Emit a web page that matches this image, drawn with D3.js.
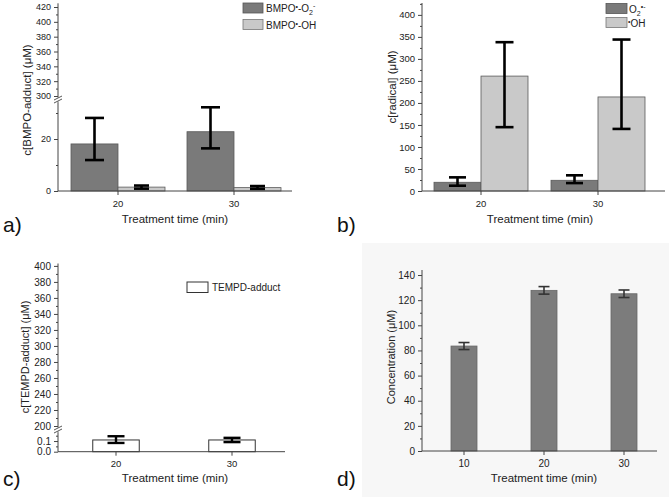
<!DOCTYPE html>
<html><head><meta charset="utf-8">
<script src="https://cdn.jsdelivr.net/npm/d3@7"></script>
<style>
body{margin:0;background:#fff}
svg{display:block;font-family:Arial,"Liberation Sans",sans-serif}
.axis path,.axis line{stroke:#444;stroke-width:1}
.axis text{fill:#222}
</style></head>
<body><svg id="c" width="669" height="497"></svg>
<script>
// ---------- DATA ----------
const timesAB = ["20", "30"];
// panel a: BMPO adducts
const aO2 = [18.1, 22.8], aO2Lo = [11.9, 16.4], aO2Hi = [28.1, 32.2];
const aOH = [1.5, 1.3], aOHLo = [0.9, 0.8], aOHHi = [2.1, 1.9];
const aUpperTicks = [300, 320, 340, 360, 380, 400, 420];
const aLowerTicks = [0, 20];
// panel b: radicals
const bO2 = [19.8, 24.3], bO2Lo = [12, 18], bO2Hi = [31, 35.6];
const bOH = [261, 213.6], bOHLo = [145, 141], bOHHi = [338, 344];
const bTicks = [0, 50, 100, 150, 200, 250, 300, 350, 400];
// panel c: TEMPD adduct
const cT = [0.11, 0.11], cTLo = [0.082, 0.09], cTHi = [0.145, 0.13];
const cUpperTicks = [200, 220, 240, 260, 280, 300, 320, 340, 360, 380, 400];
const cLowerTicks = [0.0, 0.1];
// panel d
const timesD = ["10", "20", "30"];
const dConc = [83.5, 127.8, 125.1], dErr = [2.8, 3.0, 3.0];
const dTicks = [0, 20, 40, 60, 80, 100, 120, 140];

const DARK = "#7a7a7a", LIGHT = "#c9c9c9";
const svg = d3.select("#c");

// panel d background
svg.append("rect").attr("x",362).attr("y",243).attr("width",307).attr("height",254).attr("fill","#f7f7f7");

function yAxis(g, scale, ticks, fmt, minor, fs){
  const ax = g.append("g").attr("class","axis");
  ax.call(d3.axisLeft(scale).tickValues(ticks).tickSize(4).tickPadding(3).tickFormat(fmt||d3.format("d")));
  ax.selectAll("text").attr("font-size", fs||10);
  if(minor){ g.append("g").attr("class","axis").call(d3.axisLeft(scale).tickValues(minor).tickSize(2).tickFormat("")).select(".domain").remove(); }
  ax.select(".domain").attr("d", `M0,${scale.range()[0]}V${scale.range()[1]}`);
}
function xAxis(g, scale, y, x0, x1, fs){
  const ax = g.append("g").attr("class","axis").attr("transform",`translate(0,${y})`)
    .call(d3.axisBottom(scale).tickSize(4).tickPadding(5));
  ax.selectAll("text").attr("font-size", fs||10);
  ax.select(".domain").attr("d", `M${x0},0H${x1}`);
}
function errBar(g, x, yHi, yLo, yMid, cap, w, col){
  const e = g.append("g").attr("stroke", col||"#000").attr("stroke-width", w).attr("fill","none");
  e.append("line").attr("x1",x).attr("x2",x).attr("y1",yHi).attr("y2",yLo);
  e.append("line").attr("x1",x-cap/2).attr("x2",x+cap/2).attr("y1",yHi).attr("y2",yHi);
  e.append("line").attr("x1",x-cap/2).attr("x2",x+cap/2).attr("y1",yLo).attr("y2",yLo);
}
function breakMark(g, x, y){
  const b = g.append("g");
  b.append("rect").attr("x",x-4).attr("y",y-2).attr("width",8).attr("height",4).attr("fill","#fff");
  [-1.5,1.5].forEach(o=>b.append("line").attr("x1",x-4).attr("x2",x+4).attr("y1",y+o+2).attr("y2",y+o-2).attr("stroke","#444").attr("stroke-width",0.9));
}
function label(g, txt, x, y, rot, size){
  const t = g.append("text").attr("text-anchor","middle").attr("font-size",size||11.5).attr("fill","#222")
    .attr("transform",`translate(${x},${y})${rot?" rotate(-90)":""}`);
  return t.text(txt);
}
function letter(t,x,y){ svg.append("text").attr("x",x).attr("y",y).attr("font-size",21).attr("fill","#111").text(t); }

// ---------- PANEL A ----------
{
  const g = svg.append("g");
  const x = d3.scaleBand().domain(timesAB).range([60, 292]);
  const sub = d3.scaleBand().domain(["O2","OH"]).range([0, 94]);
  const yU = d3.scaleLinear().domain([300, 425]).range([96, 3.3]);
  const yL = d3.scaleLinear().domain([0, 34]).range([191, 102.6]);
  const ax = g.append("g").attr("transform","translate(58,0)");
  yAxis(ax, yU, aUpperTicks, null, [310,330,350,370,390,410], 9);
  yAxis(ax, yL, aLowerTicks, null, [10,30], 9);
  ax.append("line").attr("x1",0).attr("x2",0).attr("y1",96).attr("y2",102.6).attr("stroke","#444");
  breakMark(g, 58, 99.5);
  const series = [{k:"O2",v:aO2,lo:aO2Lo,hi:aO2Hi,c:DARK,cap:19},{k:"OH",v:aOH,lo:aOHLo,hi:aOHHi,c:LIGHT,cap:15}];
  series.forEach(s=>{
    timesAB.forEach((t,i)=>{
      const bx = x(t)+ (x.bandwidth()-94)/2 + sub(s.k);
      g.append("rect").attr("x",bx).attr("y",yL(s.v[i])).attr("width",sub.bandwidth()).attr("height",yL(0)-yL(s.v[i]))
        .attr("fill",s.c).attr("stroke","#5a5a5a").attr("stroke-width",0.8);
    });
  });
  series.forEach(s=>timesAB.forEach((t,i)=>{
    const cx = x(t)+(x.bandwidth()-94)/2+sub(s.k)+sub.bandwidth()/2;
    errBar(g, cx, yL(s.hi[i]), yL(s.lo[i]), yL(s.v[i]), s.cap, 2.6);
  }));
  xAxis(g, x, 191, 58, 292, 9.5);
  label(g, "c[BMPO-adduct]  (μM)", 31, 100, true, 11.5);
  label(g, "Treatment time (min)", 175, 223, false, 11.5);
  // legend
  const lg = g.append("g");
  lg.append("rect").attr("x",243).attr("y",3).attr("width",20).attr("height",10).attr("fill",DARK).attr("stroke","#555").attr("stroke-width",0.8);
  lg.append("rect").attr("x",243).attr("y",19.5).attr("width",20).attr("height",10).attr("fill",LIGHT).attr("stroke","#777").attr("stroke-width",0.8);
  const t1 = lg.append("text").attr("x",266).attr("y",12).attr("font-size",10).attr("fill","#222");
  t1.append("tspan").text("BMPO");
  t1.append("tspan").attr("dy",-3).attr("font-size",7).text("•");
  t1.append("tspan").attr("dy",3).text("-O");
  t1.append("tspan").attr("dy",3).attr("font-size",7).text("2");
  t1.append("tspan").attr("dy",-7).attr("font-size",7).text("-");
  const t2 = lg.append("text").attr("x",266).attr("y",28.5).attr("font-size",10).attr("fill","#222");
  t2.append("tspan").text("BMPO");
  t2.append("tspan").attr("dy",-3).attr("font-size",7).text("•");
  t2.append("tspan").attr("dy",3).text("-OH");
  letter("a)", 3, 232);
}

// ---------- PANEL B ----------
{
  const g = svg.append("g");
  const x = d3.scaleBand().domain(timesAB).range([422.5, 656.5]);
  const sub = d3.scaleBand().domain(["O2","OH"]).range([0, 94]);
  const y = d3.scaleLinear().domain([0, 427]).range([191, 3]);
  const ax = g.append("g").attr("transform","translate(422,0)");
  yAxis(ax, y, bTicks, null, [25,75,125,175,225,275,325,375,425], 9.5);
  const series = [{k:"O2",v:bO2,lo:bO2Lo,hi:bO2Hi,c:DARK,cap:17},{k:"OH",v:bOH,lo:bOHLo,hi:bOHHi,c:LIGHT,cap:18}];
  series.forEach(s=>timesAB.forEach((t,i)=>{
    const bx = x(t)+(x.bandwidth()-94)/2+sub(s.k);
    g.append("rect").attr("x",bx).attr("y",y(s.v[i])).attr("width",sub.bandwidth()).attr("height",y(0)-y(s.v[i]))
      .attr("fill",s.c).attr("stroke","#5a5a5a").attr("stroke-width",0.8);
  }));
  series.forEach(s=>timesAB.forEach((t,i)=>{
    const cx = x(t)+(x.bandwidth()-94)/2+sub(s.k)+sub.bandwidth()/2;
    errBar(g, cx, y(s.hi[i]), y(s.lo[i]), y(s.v[i]), s.cap, 2.6);
  }));
  xAxis(g, x, 191, 422, 665, 9.5);
  label(g, "c[radical] (μM)", 396, 87, true, 11.5);
  label(g, "Treatment time (min)", 540, 223, false, 11.5);
  const lg = g.append("g");
  lg.append("rect").attr("x",606).attr("y",3.5).attr("width",21).attr("height",10).attr("fill",DARK).attr("stroke","#555").attr("stroke-width",0.8);
  lg.append("rect").attr("x",606).attr("y",17.5).attr("width",21).attr("height",10).attr("fill",LIGHT).attr("stroke","#777").attr("stroke-width",0.8);
  const t1 = lg.append("text").attr("x",629).attr("y",12.5).attr("font-size",10).attr("fill","#222");
  t1.append("tspan").text("O");
  t1.append("tspan").attr("dy",3).attr("font-size",7).text("2");
  t1.append("tspan").attr("dy",-7).attr("font-size",7).text("•-");
  const t2 = lg.append("text").attr("x",628).attr("y",26.5).attr("font-size",10).attr("fill","#222");
  t2.append("tspan").attr("dy",-3).attr("font-size",7).text("•");
  t2.append("tspan").attr("dy",3).text("OH");
  letter("b)", 337, 232);
}

// ---------- PANEL C ----------
{
  const g = svg.append("g");
  const x = d3.scaleBand().domain(timesAB).range([58, 290]);
  const yU = d3.scaleLinear().domain([200, 403]).range([426, 263.5]);
  const yL = d3.scaleLinear().domain([0, 0.18]).range([451.7, 432.5]);
  const ax = g.append("g").attr("transform","translate(58,0)");
  yAxis(ax, yU, cUpperTicks, d3.format("d"), [210,230,250,270,290,310,330,350,370,390], 10);
  yAxis(ax, yL, cLowerTicks, d3.format(".1f"), [0.05,0.15], 10);
  ax.append("line").attr("x1",0).attr("x2",0).attr("y1",426).attr("y2",432.5).attr("stroke","#444");
  breakMark(g, 58, 429.5);
  const bw = 46.5;
  timesAB.forEach((t,i)=>{
    const cx = x(t)+x.bandwidth()/2;
    g.append("rect").attr("x",cx-bw/2).attr("y",yL(cT[i])).attr("width",bw).attr("height",yL(0)-yL(cT[i]))
      .attr("fill","#fff").attr("stroke","#333").attr("stroke-width",1);
    errBar(g, cx, yL(cTHi[i]), yL(cTLo[i]), yL(cT[i]), 17, 2.4);
  });
  xAxis(g, x, 451.7, 58, 285, 9.5);
  label(g, "c[TEMPD-adduct] (μM)", 28.5, 357, true, 11);
  label(g, "Treatment time (min)", 175, 482, false, 11.5);
  g.append("rect").attr("x",187).attr("y",282).attr("width",21).attr("height",10.5).attr("fill","#fff").attr("stroke","#333").attr("stroke-width",1);
  g.append("text").attr("x",212).attr("y",291).attr("font-size",10).attr("fill","#222").text("TEMPD-adduct");
  letter("c)", 3, 486);
}

// ---------- PANEL D ----------
{
  const g = svg.append("g");
  const x = d3.scaleBand().domain(timesD).range([424, 664]);
  const y = d3.scaleLinear().domain([0, 144]).range([451, 270]);
  const ax = g.append("g").attr("transform","translate(422,0)");
  yAxis(ax, y, dTicks, null, [10,30,50,70,90,110,130], 10);
  const bw = 26;
  timesD.forEach((t,i)=>{
    const cx = x(t)+x.bandwidth()/2;
    g.append("rect").attr("x",cx-bw/2).attr("y",y(dConc[i])).attr("width",bw).attr("height",y(0)-y(dConc[i]))
      .attr("fill","#7c7c7c").attr("stroke","#666").attr("stroke-width",0.8);
    errBar(g, cx, y(dConc[i]+dErr[i]), y(dConc[i]-dErr[i]), y(dConc[i]), 11, 1.6, "#333");
  });
  xAxis(g, x, 451, 422, 657, 10);
  label(g, "Concentration (μM)", 395, 357, true, 11);
  label(g, "Treatment time (min)", 544, 482, false, 11.5);
  letter("d)", 337, 486);
}
</script></body></html>
